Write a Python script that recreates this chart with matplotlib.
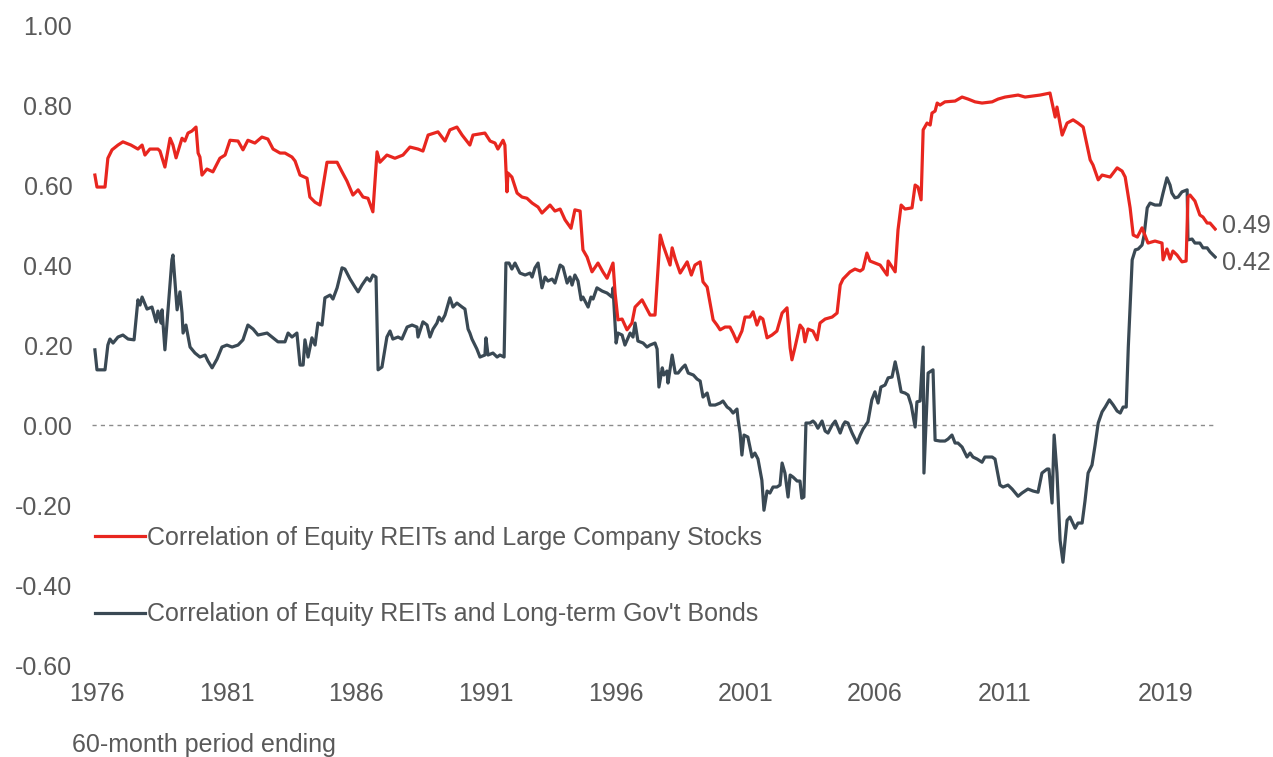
import matplotlib
matplotlib.use("Agg")
import matplotlib.pyplot as plt

plt.rcParams["font.family"] = ["Liberation Sans", "DejaVu Sans"]

# 60-month rolling correlations (x = period ending, fractional year)
stocks_x = [1975.92, 1976.00, 1976.31, 1976.42, 1976.58, 1976.81, 1977.00, 1977.31, 1977.58, 1977.74,
            1977.85, 1978.04, 1978.35, 1978.43, 1978.62, 1978.82, 1978.93, 1979.05, 1979.20, 1979.28,
            1979.39, 1979.51, 1979.66, 1979.82, 1979.90, 1979.97, 1980.05, 1980.24, 1980.47, 1980.74,
            1980.94, 1981.13, 1981.44, 1981.63, 1981.82, 1982.09, 1982.36, 1982.59, 1982.79, 1983.06,
            1983.25, 1983.52, 1983.64, 1983.83, 1984.10, 1984.21, 1984.41, 1984.60, 1984.87, 1985.26,
            1985.45, 1985.64, 1985.87, 1986.07, 1986.26, 1986.45, 1986.64, 1986.80, 1986.91, 1987.18,
            1987.49, 1987.80, 1988.07, 1988.38, 1988.57, 1988.77, 1989.15, 1989.42, 1989.61, 1989.88,
            1990.08, 1990.38, 1990.50, 1990.96, 1991.16, 1991.35, 1991.46, 1991.66, 1991.73, 1991.81,
            1991.85, 1992.00, 1992.20, 1992.39, 1992.58, 1992.78, 1993.01, 1993.16, 1993.47, 1993.66,
            1993.86, 1994.05, 1994.28, 1994.43, 1994.63, 1994.74, 1994.90, 1995.09, 1995.32, 1995.51,
            1995.67, 1995.90, 1995.98, 1996.09, 1996.25, 1996.44, 1996.63, 1996.75, 1997.02, 1997.21,
            1997.33, 1997.52, 1997.72, 1997.83, 1998.10, 1998.18, 1998.30, 1998.49, 1998.76, 1998.92,
            1999.06, 1999.26, 1999.37, 1999.53, 1999.76, 1999.91, 2000.03, 2000.22, 2000.41, 2000.53,
            2000.68, 2000.87, 2000.99, 2001.18, 2001.30, 2001.45, 2001.57, 2001.68, 2001.84, 2002.03,
            2002.22, 2002.42, 2002.61, 2002.73, 2002.80, 2002.92, 2003.11, 2003.23, 2003.30, 2003.42,
            2003.61, 2003.77, 2003.88, 2004.08, 2004.35, 2004.54, 2004.66, 2004.77, 2005.04, 2005.23,
            2005.43, 2005.54, 2005.69, 2005.81, 2006.00, 2006.20, 2006.47, 2006.51, 2006.66, 2006.78,
            2006.89, 2007.01, 2007.16, 2007.43, 2007.55, 2007.66, 2007.78, 2007.86, 2008.01, 2008.13,
            2008.20, 2008.32, 2008.40, 2008.51, 2008.70, 2009.09, 2009.36, 2009.59, 2009.86, 2010.13,
            2010.52, 2010.75, 2011.02, 2011.52, 2011.79, 2012.37, 2012.75, 2012.95, 2013.02, 2013.22,
            2013.41, 2013.64, 2013.83, 2014.03, 2014.30, 2014.41, 2014.61, 2014.76, 2015.07, 2015.34,
            2015.53, 2015.65, 2015.84, 2015.96, 2016.12, 2016.30, 2016.53, 2016.80, 2017.07, 2017.11,
            2017.26, 2017.38, 2017.49, 2017.65, 2017.84, 2018.00, 2018.07, 2018.15, 2018.34, 2018.53,
            2018.65, 2018.81, 2018.92, 2019.12]
stocks_corr = [0.625, 0.595, 0.595, 0.667, 0.688, 0.700, 0.708, 0.700, 0.690, 0.700,
               0.675, 0.690, 0.690, 0.685, 0.645, 0.717, 0.700, 0.668, 0.700, 0.717,
               0.710, 0.730, 0.735, 0.745, 0.680, 0.670, 0.625, 0.640, 0.633, 0.667,
               0.675, 0.712, 0.710, 0.688, 0.712, 0.705, 0.720, 0.715, 0.690, 0.680,
               0.680, 0.670, 0.660, 0.625, 0.617, 0.570, 0.557, 0.550, 0.657, 0.657,
               0.633, 0.610, 0.575, 0.588, 0.570, 0.567, 0.533, 0.683, 0.657, 0.675,
               0.667, 0.675, 0.695, 0.690, 0.685, 0.725, 0.733, 0.710, 0.738, 0.745,
               0.725, 0.700, 0.725, 0.730, 0.710, 0.705, 0.690, 0.712, 0.700, 0.583,
               0.630, 0.620, 0.580, 0.570, 0.567, 0.555, 0.545, 0.530, 0.550, 0.535,
               0.540, 0.513, 0.492, 0.538, 0.535, 0.438, 0.420, 0.383, 0.405, 0.383,
               0.367, 0.405, 0.330, 0.263, 0.265, 0.238, 0.255, 0.295, 0.313, 0.290,
               0.275, 0.275, 0.475, 0.450, 0.400, 0.443, 0.415, 0.380, 0.408, 0.375,
               0.400, 0.408, 0.358, 0.345, 0.263, 0.250, 0.238, 0.245, 0.245, 0.230,
               0.208, 0.235, 0.270, 0.270, 0.283, 0.250, 0.270, 0.265, 0.218, 0.225,
               0.235, 0.280, 0.293, 0.193, 0.163, 0.195, 0.250, 0.240, 0.208, 0.240,
               0.235, 0.213, 0.255, 0.265, 0.270, 0.280, 0.350, 0.365, 0.383, 0.390,
               0.385, 0.390, 0.430, 0.410, 0.405, 0.400, 0.375, 0.410, 0.395, 0.383,
               0.488, 0.550, 0.540, 0.543, 0.600, 0.595, 0.563, 0.738, 0.755, 0.750,
               0.780, 0.785, 0.805, 0.800, 0.808, 0.810, 0.820, 0.815, 0.808, 0.805,
               0.808, 0.815, 0.820, 0.825, 0.820, 0.825, 0.830, 0.770, 0.795, 0.725,
               0.755, 0.763, 0.755, 0.745, 0.663, 0.650, 0.613, 0.625, 0.620, 0.643,
               0.635, 0.620, 0.543, 0.475, 0.470, 0.493, 0.455, 0.460, 0.455, 0.413,
               0.440, 0.415, 0.435, 0.425, 0.408, 0.410, 0.570, 0.575, 0.560, 0.525,
               0.520, 0.505, 0.505, 0.49]

bonds_x = [1975.92, 1976.00, 1976.31, 1976.42, 1976.50, 1976.62, 1976.81, 1977.00, 1977.20, 1977.43,
           1977.58, 1977.66, 1977.74, 1977.93, 1978.12, 1978.28, 1978.35, 1978.47, 1978.51, 1978.62,
           1978.89, 1978.93, 1979.09, 1979.20, 1979.28, 1979.32, 1979.43, 1979.59, 1979.78, 1979.97,
           1980.17, 1980.28, 1980.44, 1980.63, 1980.82, 1981.01, 1981.21, 1981.44, 1981.63, 1981.82,
           1982.02, 1982.21, 1982.56, 1982.75, 1982.98, 1983.25, 1983.37, 1983.52, 1983.71, 1983.83,
           1983.95, 1984.02, 1984.14, 1984.29, 1984.41, 1984.52, 1984.68, 1984.79, 1984.99, 1985.10,
           1985.26, 1985.45, 1985.56, 1985.76, 1985.95, 1986.07, 1986.22, 1986.41, 1986.53, 1986.64,
           1986.76, 1986.84, 1986.99, 1987.18, 1987.30, 1987.41, 1987.61, 1987.76, 1987.96, 1988.15,
           1988.34, 1988.38, 1988.57, 1988.73, 1988.84, 1988.96, 1989.11, 1989.19, 1989.30, 1989.42,
           1989.61, 1989.73, 1989.88, 1990.08, 1990.19, 1990.31, 1990.38, 1990.46, 1990.65, 1990.77,
           1990.96, 1991.00, 1991.08, 1991.27, 1991.43, 1991.54, 1991.70, 1991.77, 1991.89, 1992.00,
           1992.12, 1992.31, 1992.51, 1992.70, 1992.78, 1992.89, 1993.01, 1993.16, 1993.28, 1993.39,
           1993.55, 1993.66, 1993.86, 1993.97, 1994.13, 1994.24, 1994.32, 1994.43, 1994.55, 1994.67,
           1994.74, 1994.94, 1995.05, 1995.13, 1995.28, 1995.48, 1995.67, 1995.86, 1995.90, 1996.02,
           1996.09, 1996.25, 1996.36, 1996.56, 1996.67, 1996.75, 1996.86, 1997.06, 1997.21, 1997.33,
           1997.52, 1997.60, 1997.67, 1997.80, 1997.86, 1997.98, 1998.02, 1998.18, 1998.30, 1998.41,
           1998.57, 1998.68, 1998.80, 1999.00, 1999.14, 1999.26, 1999.37, 1999.53, 1999.64, 1999.84,
           2000.03, 2000.14, 2000.30, 2000.41, 2000.53, 2000.68, 2000.72, 2000.80, 2000.87, 2000.95,
           2001.10, 2001.26, 2001.37, 2001.49, 2001.64, 2001.72, 2001.84, 2001.95, 2002.07, 2002.22,
           2002.34, 2002.42, 2002.53, 2002.65, 2002.73, 2002.84, 2003.00, 2003.11, 2003.18, 2003.26,
           2003.34, 2003.49, 2003.61, 2003.69, 2003.80, 2003.96, 2004.08, 2004.19, 2004.35, 2004.47,
           2004.66, 2004.77, 2004.85, 2004.96, 2005.12, 2005.31, 2005.43, 2005.54, 2005.73, 2005.88,
           2006.00, 2006.12, 2006.23, 2006.39, 2006.51, 2006.66, 2006.78, 2006.89, 2007.01, 2007.16,
           2007.28, 2007.40, 2007.55, 2007.62, 2007.74, 2007.86, 2007.89, 2008.05, 2008.24, 2008.32,
           2008.51, 2008.70, 2008.82, 2008.97, 2009.09, 2009.20, 2009.36, 2009.55, 2009.67, 2009.78,
           2009.94, 2010.13, 2010.24, 2010.52, 2010.63, 2010.82, 2010.94, 2011.13, 2011.29, 2011.52,
           2011.67, 2011.90, 2012.10, 2012.29, 2012.44, 2012.64, 2012.71, 2012.83, 2012.91, 2013.02,
           2013.14, 2013.25, 2013.41, 2013.52, 2013.72, 2013.83, 2013.99, 2014.10, 2014.22, 2014.37,
           2014.49, 2014.61, 2014.76, 2014.88, 2015.04, 2015.19, 2015.34, 2015.46, 2015.57, 2015.69,
           2015.77, 2015.92, 2016.04, 2016.15, 2016.30, 2016.38, 2016.50, 2016.61, 2016.80, 2017.00,
           2017.11, 2017.26, 2017.38, 2017.45, 2017.57, 2017.69, 2017.84, 2018.04, 2018.07, 2018.23,
           2018.34, 2018.53, 2018.65, 2018.81, 2018.92, 2019.12]
bonds_corr = [0.188, 0.138, 0.138, 0.200, 0.215, 0.205, 0.220, 0.225, 0.215, 0.213,
              0.313, 0.300, 0.320, 0.290, 0.295, 0.258, 0.285, 0.255, 0.288, 0.188,
              0.413, 0.425, 0.288, 0.333, 0.280, 0.230, 0.250, 0.195, 0.180, 0.170,
              0.175, 0.160, 0.143, 0.165, 0.195, 0.200, 0.195, 0.200, 0.213, 0.250,
              0.240, 0.225, 0.230, 0.220, 0.208, 0.208, 0.230, 0.220, 0.230, 0.150,
              0.150, 0.213, 0.170, 0.218, 0.200, 0.255, 0.250, 0.318, 0.325, 0.315,
              0.343, 0.393, 0.390, 0.365, 0.345, 0.333, 0.350, 0.368, 0.360, 0.375,
              0.370, 0.138, 0.145, 0.220, 0.235, 0.215, 0.220, 0.215, 0.245, 0.250,
              0.245, 0.220, 0.258, 0.250, 0.220, 0.240, 0.255, 0.270, 0.260, 0.275,
              0.318, 0.295, 0.305, 0.295, 0.290, 0.240, 0.230, 0.215, 0.190, 0.170,
              0.175, 0.218, 0.175, 0.180, 0.170, 0.175, 0.170, 0.405, 0.405, 0.390,
              0.405, 0.380, 0.375, 0.380, 0.370, 0.393, 0.405, 0.343, 0.370, 0.360,
              0.365, 0.355, 0.400, 0.395, 0.355, 0.370, 0.350, 0.375, 0.360, 0.313,
              0.320, 0.295, 0.320, 0.315, 0.343, 0.335, 0.330, 0.320, 0.343, 0.205,
              0.230, 0.225, 0.200, 0.230, 0.220, 0.255, 0.210, 0.205, 0.195, 0.200,
              0.205, 0.190, 0.095, 0.143, 0.125, 0.135, 0.105, 0.175, 0.130, 0.130,
              0.143, 0.150, 0.130, 0.125, 0.115, 0.110, 0.070, 0.080, 0.050, 0.050,
              0.055, 0.060, 0.045, 0.040, 0.030, 0.040, 0.015, -0.020, -0.075, -0.025,
              -0.030, -0.080, -0.070, -0.085, -0.138, -0.213, -0.165, -0.170, -0.155, -0.155,
              -0.150, -0.095, -0.120, -0.180, -0.125, -0.130, -0.140, -0.140, -0.183, -0.180,
              0.005, 0.005, 0.010, 0.005, -0.008, 0.010, -0.015, -0.020, 0.000, 0.010,
              -0.020, 0.000, 0.008, 0.005, -0.020, -0.045, -0.025, -0.010, 0.008, 0.063,
              0.083, 0.055, 0.095, 0.100, 0.118, 0.120, 0.158, 0.125, 0.083, 0.080,
              0.075, 0.050, -0.005, 0.058, 0.060, 0.195, -0.120, 0.130, 0.138, -0.038,
              -0.040, -0.040, -0.035, -0.025, -0.045, -0.045, -0.055, -0.080, -0.070, -0.080,
              -0.085, -0.093, -0.080, -0.080, -0.085, -0.150, -0.155, -0.150, -0.160, -0.178,
              -0.170, -0.160, -0.165, -0.168, -0.120, -0.110, -0.110, -0.195, -0.025, -0.120,
              -0.288, -0.343, -0.238, -0.230, -0.258, -0.245, -0.245, -0.190, -0.120, -0.100,
              -0.050, 0.005, 0.033, 0.045, 0.063, 0.050, 0.035, 0.030, 0.045, 0.045,
              0.195, 0.413, 0.438, 0.440, 0.450, 0.475, 0.543, 0.555, 0.550, 0.550,
              0.580, 0.618, 0.600, 0.580, 0.568, 0.570, 0.583, 0.588, 0.463, 0.465,
              0.455, 0.455, 0.443, 0.443, 0.433, 0.42]

tick_years = [1976, 1981, 1986, 1991, 1996, 2001, 2006, 2011, 2017.2]
tick_labels = ["1976", "1981", "1986", "1991", "1996", "2001", "2006", "2011", "2019"]
y_ticks = [-0.6, -0.4, -0.2, 0.0, 0.2, 0.4, 0.6, 0.8, 1.0]

label_stocks = "Correlation of Equity REITs and Large Company Stocks"
label_bonds = "Correlation of Equity REITs and Long-term Gov't Bonds"

red = "#e8261f"
slate = "#3a4954"
grey = "#595959"
fs = 18

fig = plt.figure(figsize=(12.73, 7.57), dpi=100)
ax = fig.add_axes([0.0721, 0.1215, 0.8841, 0.8454])

ax.axhline(0, color="#8c8c8c", lw=1, ls=(0, (3, 3)), zorder=1)
l1, = ax.plot(stocks_x, stocks_corr, color=red, lw=2.3, zorder=3)
l2, = ax.plot(bonds_x, bonds_corr, color=slate, lw=2.3, zorder=2)

ax.set_xlim(1975.8, 2019.2)
ax.set_ylim(-0.6, 1.0)
ax.set_yticks(y_ticks)
ax.set_yticklabels([f"{v:.2f}" for v in y_ticks])
ax.set_xticks(tick_years)
ax.set_xticklabels(tick_labels)
ax.tick_params(axis="y", length=0, pad=14, labelsize=fs, labelcolor=grey)
ax.tick_params(axis="x", length=0, pad=12, labelsize=fs, labelcolor=grey)
for s in ax.spines.values():
    s.set_visible(False)

# end-of-line value labels
ax.annotate(f"{stocks_corr[-1]:.2f}", (stocks_x[-1], stocks_corr[-1]), xytext=(5, 2),
            textcoords="offset points", va="center", ha="left", fontsize=fs, color=grey,
            annotation_clip=False)
ax.annotate(f"{bonds_corr[-1]:.2f}", (bonds_x[-1], bonds_corr[-1]), xytext=(5, -4.5),
            textcoords="offset points", va="center", ha="left", fontsize=fs, color=grey,
            annotation_clip=False)

ax.legend([l1, l2], [label_stocks, label_bonds], loc="upper left",
          bbox_to_anchor=(95 / 1273, 1 - 526 / 757), bbox_transform=fig.transFigure,
          frameon=False, fontsize=fs, labelcolor=grey, handlelength=2.0,
          handletextpad=0.08, labelspacing=2.1, borderpad=0, borderaxespad=0)

fig.text(72 / 1273, 1 - 745 / 757, "60-month period ending", fontsize=fs, color=grey,
         va="center", ha="left")

fig.savefig("out.png", dpi=100)
